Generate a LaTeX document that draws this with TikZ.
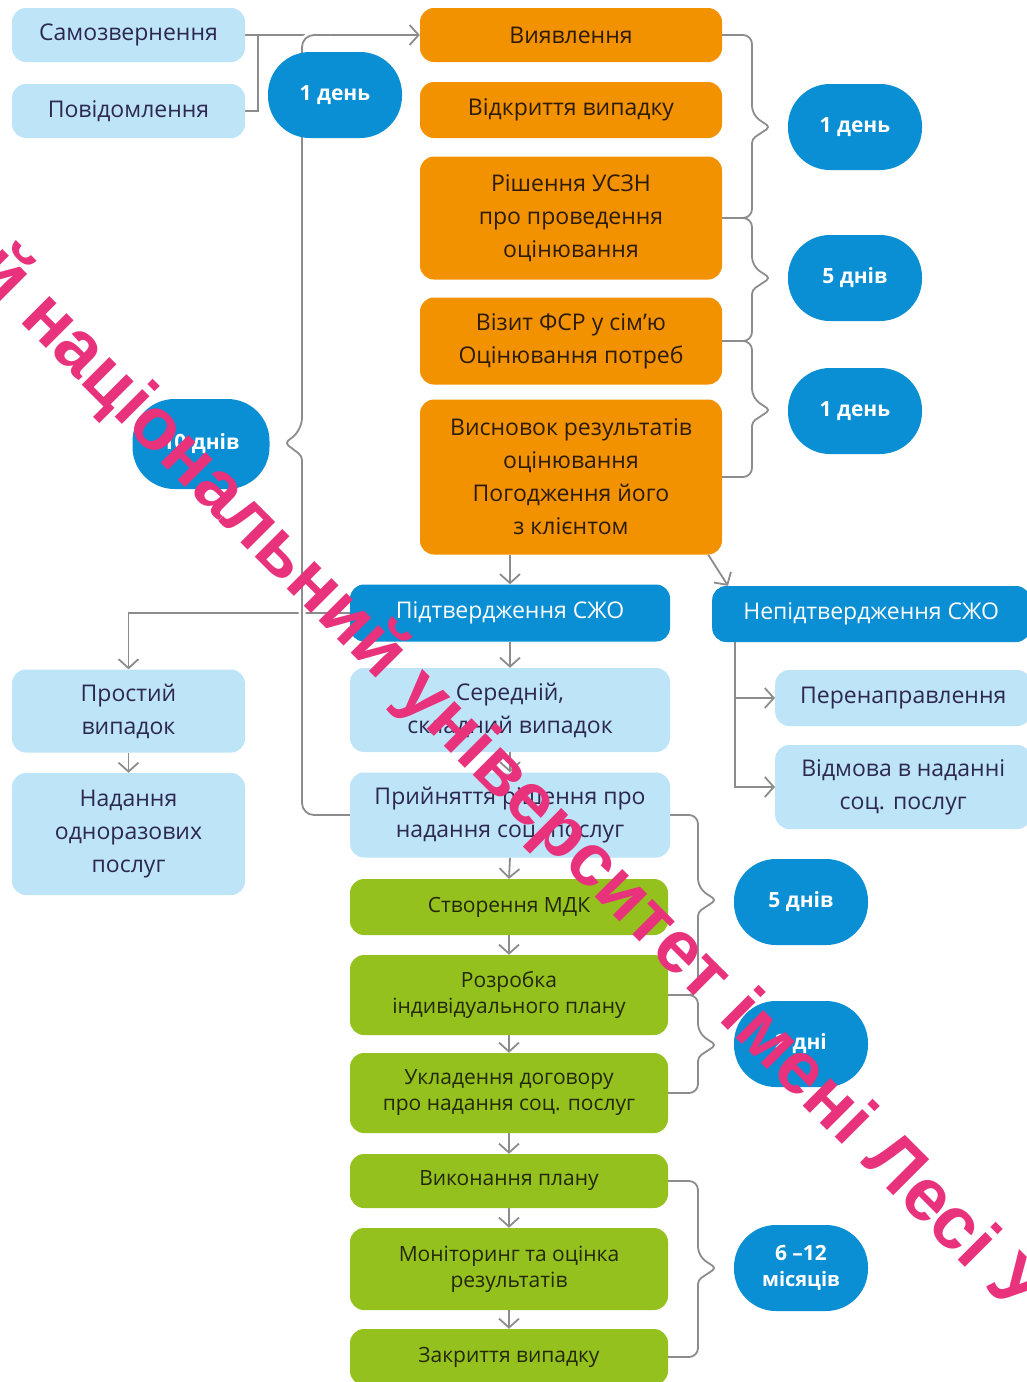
\documentclass[tikz,border=0pt]{standalone}
\usepackage{fontspec}
\setmainfont{Open Sans}
\newfontfamily\wmfont{Liberation Sans}
\usetikzlibrary{arrows.meta,calc}
\definecolor{lblue}{RGB}{190,228,248}
\definecolor{orng}{RGB}{243,146,0}
\definecolor{grn}{RGB}{149,193,31}
\definecolor{dblue}{RGB}{10,142,212}
\definecolor{conncol}{RGB}{140,140,140}
\definecolor{txtnavy}{RGB}{45,40,80}
\definecolor{txtbrown}{RGB}{45,28,8}
\definecolor{txtgreen}{RGB}{35,40,8}
\definecolor{wm}{RGB}{232,50,124}
\pgfdeclarelayer{bg}
\pgfsetlayers{bg,main}
\begin{document}
\begin{tikzpicture}[x=1pt,y=-1pt,
 box/.style={rectangle, rounded corners=14pt, align=center, inner sep=2pt, font=\fontsize{23}{33}\selectfont},
 lbox/.style={box, fill=lblue, text=txtnavy},
 obox/.style={box, fill=orng, text=txtbrown},
 gbox/.style={box, fill=grn, text=txtgreen, font=\fontsize{21}{26}\selectfont},
 bbox/.style={box, fill=dblue, text=white, font=\fontsize{23}{28}\selectfont},
 oval/.style={rectangle, rounded corners=42pt, fill=dblue, text=white, minimum width=134pt, minimum height=86pt, align=center, font=\bfseries\fontsize{21}{26}\selectfont},
 conn/.style={draw=conncol, line width=1.8pt},
 arr/.style={conn, -{Straight Barb[length=9pt,width=20pt]}},
 brace/.style={conn, rounded corners=9pt},
]
\useasboundingbox (0,0) rectangle (1027,1382);

% left column
\node[lbox, minimum width=233pt, minimum height=54pt] (samo) at (128.5,35) {Самозвернення};
\node[lbox, minimum width=233pt, minimum height=54pt] (povid) at (128.5,111) {Повідомлення};
\node[lbox, minimum width=233pt, minimum height=83pt] (prostyi) at (128.5,711) {Простий\\випадок};
\node[lbox, minimum width=233pt, minimum height=122pt] (nadannia) at (128.5,834) {Надання\\одноразових\\послуг};

% orange column
\node[obox, minimum width=302pt, minimum height=54pt] (vyav) at (571,35) {Виявлення};
\node[obox, minimum width=302pt, minimum height=56pt] (vidkr) at (571,110) {Відкриття випадку};
\node[obox, minimum width=302pt, minimum height=123pt] (rish) at (571,218) {Рішення УСЗН\\про проведення\\оцінювання};
\node[obox, minimum width=302pt, minimum height=87pt] (vizyt) at (571,341) {Візит ФСР у сім'ю\\Оцінювання потреб};
\node[obox, minimum width=302pt, minimum height=155pt] (vysn) at (571,477) {Висновок результатів\\оцінювання\\Погодження його\\з клієнтом};

% blue / light middle
\node[bbox, minimum width=320pt, minimum height=57pt] (pidtv) at (510,613) {Підтвердження СЖО};
\node[bbox, minimum width=318pt, minimum height=56pt, anchor=west] (nepidtv) at (712,614) {Непідтвердження СЖО};
\node[lbox, minimum width=320pt, minimum height=84pt] (seredn) at (510,710) {Середній,\\складний випадок};
\node[lbox, minimum width=320pt, minimum height=85pt] (pryin) at (510,815) {Прийняття рішення про\\надання соц. послуг};
\node[lbox, minimum width=256pt, minimum height=56pt, anchor=west] (perenapr) at (775,698) {Перенаправлення};
\node[lbox, minimum width=256pt, minimum height=84pt, anchor=west] (vidmova) at (775,787) {Відмова в наданні\\соц. послуг};

% green column
\node[gbox, minimum width=318pt, minimum height=56pt] (mdk) at (509,907) {Створення МДК};
\node[gbox, minimum width=318pt, minimum height=80pt] (rozrobka) at (509,995) {Розробка\\індивідуального плану};
\node[gbox, minimum width=318pt, minimum height=80pt] (ukladennia) at (509,1093) {Укладення договору\\про надання соц. послуг};
\node[gbox, minimum width=318pt, minimum height=54pt] (vykonannia) at (509,1181) {Виконання плану};
\node[gbox, minimum width=318pt, minimum height=82pt] (monitoring) at (509,1269) {Моніторинг та оцінка\\результатів};
\node[gbox, minimum width=318pt, minimum height=56pt] (zakryttia) at (509,1357) {Закриття випадку};

% ovals
\node[oval] (d1top) at (335,95) {1 день};
\node[oval] (d1r) at (855,127) {1 день};
\node[oval] (d5r) at (855,278) {5 днів};
\node[oval] (d1r2) at (855,411) {1 день};
\node[oval, minimum width=137pt, minimum height=90pt] (d10) at (201,444) {10 днів};
\node[oval] (d5b) at (801,902) {5 днів};
\node[oval] (d2b) at (801,1044) {2 дні};
\node[oval] (d612) at (801,1268) {6 –12\\{\fontsize{20}{22}\selectfont місяців}};

\coordinate (j1) at (258,35);
\coordinate (lbtop) at (330,35);

\begin{pgfonlayer}{bg}
% top inputs
\draw[conn] (samo.east) -- (j1);
\draw[conn] (povid.east) -| (j1);
\draw[arr] (j1) -- (vyav.west);
% to simple case
\draw[arr] (pidtv.west) -| (prostyi.north);
\draw[arr] (prostyi.south) -- (nadannia.north);
% main down arrows
\draw[arr] (vysn.south -| pidtv.north) -- (pidtv.north);
\draw[arr] ([xshift=-14pt]vysn.south east) -- ([xshift=16pt]nepidtv.north west);
\draw[arr] (pidtv.south) -- (seredn.north);
\draw[arr] (seredn.south) -- (pryin.north);
\draw[arr] (pryin.south) -- (mdk.north);
\draw[arr] (mdk.south) -- (rozrobka.north);
\draw[arr] (rozrobka.south) -- (ukladennia.north);
\draw[arr] (ukladennia.south) -- (vykonannia.north);
\draw[arr] (vykonannia.south) -- (monitoring.north);
\draw[arr] (monitoring.south) -- (zakryttia.north);
% not confirmed branch
\draw[arr] ([xshift=23pt]nepidtv.south west) |- (perenapr.west);
\draw[arr] ([xshift=23pt]nepidtv.south west) |- (vidmova.west);
% right braces (orange)
\draw[brace] (vyav.east) -- (752,35) -- (752,115) [rounded corners=4pt] -- (770,127) -- (752,139) [rounded corners=9pt] -- (752,218) -- (rish.east);
\draw[brace] (rish.east) -- (752,218) -- (752,266) [rounded corners=4pt] -- (770,278) -- (752,290) [rounded corners=9pt] -- (752,341) -- (vizyt.east);
\draw[brace] (vizyt.east) -- (752,341) -- (752,398) [rounded corners=4pt] -- (770,410) -- (752,422) [rounded corners=9pt] -- (752,477) -- (vysn.east);
% right braces (green)
\draw[brace] (pryin.east) -- (698,815) -- (698,888) [rounded corners=4pt] -- (716,900) -- (698,912) [rounded corners=9pt] -- (698,995) -- (rozrobka.east);
\draw[brace] (rozrobka.east) -- (698,995) -- (698,1033) [rounded corners=4pt] -- (716,1045) -- (698,1057) [rounded corners=9pt] -- (698,1093) -- (ukladennia.east);
\draw[brace] (vykonannia.east) -- (698,1181) -- (698,1256) [rounded corners=4pt] -- (716,1268) -- (698,1280) [rounded corners=9pt] -- (698,1357) -- (zakryttia.east);
% long left brace
\draw[conn, rounded corners=12pt, preaction={draw=white, line width=7pt}] (lbtop) -- (302,35) -- (302,430) [rounded corners=4pt] -- (285,443) -- (302,456) [rounded corners=12pt] -- (302,815) -- (pryin.west);
\end{pgfonlayer}

% watermark
\node[rotate=-45, text=wm, font=\wmfont\bfseries\fontsize{74}{74}\selectfont, inner sep=0pt] (wmark) at (508,782) {й національний університет імені Лесі У};
\end{tikzpicture}
\end{document}
